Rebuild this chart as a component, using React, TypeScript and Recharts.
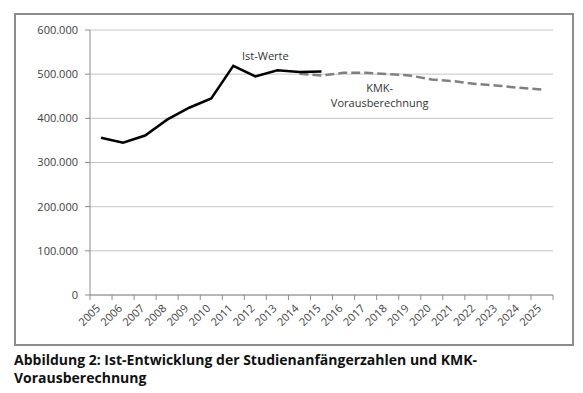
import React from 'react';
import {
  LineChart,
  Line,
  XAxis,
  YAxis,
  CartesianGrid,
  ReferenceDot,
} from 'recharts';

const years = [
  '2005', '2006', '2007', '2008', '2009', '2010', '2011', '2012', '2013', '2014', '2015',
  '2016', '2017', '2018', '2019', '2020', '2021', '2022', '2023', '2024', '2025',
];

// Ist-Werte 2005-2015
const istWerte = [356000, 345000, 361000, 397000, 424000, 445000, 519000, 495000, 509000, 505000, 506000];

// KMK-Vorausberechnung 2014-2025
const kmkStart = 2014;
const kmkWerte = [501000, 497000, 503000, 503000, 500000, 497000, 488000, 484000, 478000, 474000, 469000, 465000];

const yTicks = [0, 100000, 200000, 300000, 400000, 500000, 600000];

const data = years.map((year, i) => {
  const k = Number(year) - kmkStart;
  return {
    year,
    ist: i < istWerte.length ? istWerte[i] : null,
    kmk: k >= 0 && k < kmkWerte.length ? kmkWerte[k] : null,
  };
});

const font = '"Open Sans", sans-serif';
const fmt = (v: number) => String(v).replace(/\B(?=(\d{3})+(?!\d))/g, '.');

// Excel-style ticks between categories
const XTick = (props: any) => {
  const { x, y, payload } = props;
  const half = 11;
  return (
    <g>
      <line x1={x - half} y1={y - 8} x2={x - half} y2={y - 3} stroke="#8c8c8c" />
      {payload.index === years.length - 1 && (
        <line x1={x + half} y1={y - 8} x2={x + half} y2={y - 3} stroke="#8c8c8c" />
      )}
      <text
        x={x}
        y={y + 6}
        textAnchor="end"
        transform={`rotate(-45, ${x}, ${y + 6})`}
        fontSize={11}
        fill="#404040"
        fontFamily={font}
      >
        {payload.value}
      </text>
    </g>
  );
};

const TextLabel = (text: string, dx: number) => (props: any) => {
  const { viewBox } = props;
  return (
    <text
      x={viewBox.x + dx}
      y={viewBox.y}
      textAnchor="middle"
      dominantBaseline="middle"
      fontSize={11}
      fill="#333"
      fontFamily={font}
    >
      {text}
    </text>
  );
};

export default function App() {
  return (
    <div style={{ marginLeft: 6, marginTop: 5, width: 560, fontFamily: font }}>
      <div style={{ border: '2px solid #8c8c8c', width: 556, height: 329 }}>
        <LineChart
          width={556}
          height={329}
          data={data}
          margin={{ top: 15, right: 19, bottom: 5, left: 0 }}
        >
          <CartesianGrid vertical={false} stroke="#c4c4c4" />
          <XAxis
            dataKey="year"
            height={44}
            interval={0}
            padding={{ left: 11, right: 11 }}
            tickLine={false}
            axisLine={{ stroke: '#8c8c8c' }}
            tick={<XTick />}
          />
          <YAxis
            width={74}
            domain={[0, 600000]}
            ticks={yTicks}
            tickFormatter={fmt}
            axisLine={{ stroke: '#8c8c8c' }}
            tickLine={{ stroke: '#8c8c8c' }}
            tickSize={5}
            tickMargin={7}
            tick={{ fontSize: 11, fill: '#404040', fontFamily: font }}
          />
          <Line
            dataKey="kmk"
            stroke="#808080"
            strokeWidth={2.5}
            strokeDasharray="9 4"
            dot={false}
            isAnimationActive={false}
          />
          <Line
            dataKey="ist"
            stroke="#000"
            strokeWidth={2.5}
            dot={false}
            isAnimationActive={false}
          />
          <ReferenceDot x="2012" y={539000} r={0} label={TextLabel('Ist-Werte', 10)} />
          <ReferenceDot x="2018" y={466000} r={0} label={TextLabel('KMK-', -8)} />
          <ReferenceDot x="2018" y={432000} r={0} label={TextLabel('Vorausberechnung', -8)} />
        </LineChart>
      </div>
      <div
        style={{
          fontWeight: 700,
          fontSize: 14,
          lineHeight: '18px',
          color: '#111',
          marginTop: 5,
        }}
      >
        Abbildung 2: Ist-Entwicklung der Studienanfängerzahlen und KMK-
        <br />
        Vorausberechnung
      </div>
    </div>
  );
}
